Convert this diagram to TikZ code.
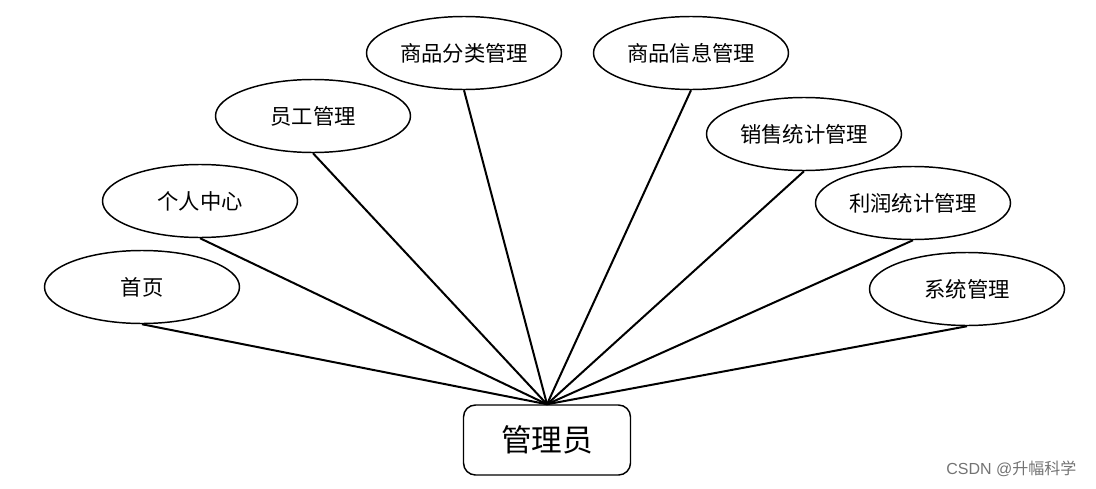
\documentclass[tikz,border=0pt]{standalone}
\usepackage{fontspec}
\newfontfamily\cjk{Noto Sans CJK SC}
\usetikzlibrary{shapes.geometric}
\tikzset{
  func/.style={draw, ellipse, line width=1.1pt, minimum width=195\unitpx, minimum height=73\unitpx, inner sep=0pt, font=\cjk\fontsize{16}{19}\selectfont},
  role/.style={draw, rounded corners=12\unitpx, line width=1.1pt, minimum width=167\unitpx, minimum height=70\unitpx, font=\cjk\fontsize{23}{27}\selectfont},
  link/.style={line width=1.5pt}
}
\newcommand{\unitpx}{*0.75pt}
\begin{document}
\begin{tikzpicture}[x=0.75pt, y=-0.75pt]
		\useasboundingbox (0,0) rectangle (1096,489);
		\node[role] (admin) at (547,440) {管理员};
		\node[func] (home) at (142,287) {首页};
		\node[func] (center) at (200,201) {个人中心};
		\node[func] (staff) at (313,116) {员工管理};
		\node[func] (cate) at (464,53) {商品分类管理};
		\node[func] (goods) at (691,53) {商品信息管理};
		\node[func] (sales) at (804,134) {销售统计管理};
		\node[func] (profit) at (913,203) {利润统计管理};
		\node[func] (sys) at (967,289) {系统管理};
		\foreach \f in {home,center,staff,cate,goods,sales,profit,sys}
		\draw[link] (\f.south) -- (admin.north);
		\node[text=black!55, font=\fontspec{Liberation Sans}\fontsize{12}{14}\selectfont, anchor=east] (mark) at (1081,469) {CSDN @{\cjk 升幅科学}};
	\end{tikzpicture}
\end{document}
